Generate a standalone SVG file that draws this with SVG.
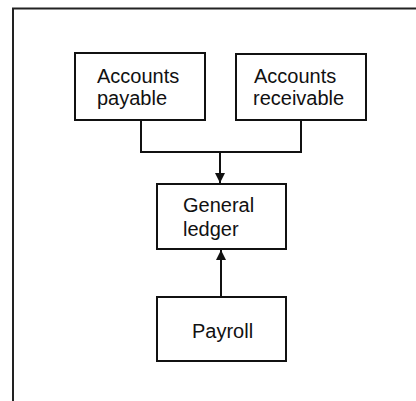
<svg xmlns="http://www.w3.org/2000/svg" width="416" height="401" viewBox="0 0 416 401">
<style>
.box{fill:#fff;stroke:#111;stroke-width:2}
.frame{fill:none;stroke:#222;stroke-width:2}
.conn{fill:none;stroke:#111;stroke-width:2}
text{font-family:"Liberation Sans",Arial,sans-serif;font-size:20px;fill:#111}
</style>
<defs>
<marker id="arr" viewBox="0 0 10 12" refX="10" refY="6" markerWidth="5" markerHeight="6" markerUnits="strokeWidth" orient="auto">
<path d="M0,1 L10,6 L0,11 Z" fill="#111"/>
</marker>
</defs>
<rect width="416" height="401" fill="#fff"/>
<path class="frame" d="M13,401 V8.5 H416"/>
<g id="connectors">
<path class="conn" d="M141,120 V152 H301 V120"/>
<path class="conn" d="M220,152 V183" marker-end="url(#arr)"/>
<path class="conn" d="M221,297 V250" marker-end="url(#arr)"/>
</g>
<g id="accounts-payable">
<rect class="box" x="75" y="53" width="130" height="67"/>
<text x="97" y="83">Accounts</text>
<text x="97" y="105">payable</text>
</g>
<g id="accounts-receivable">
<rect class="box" x="236" y="54" width="130" height="66"/>
<text x="254" y="83">Accounts</text>
<text x="253" y="105">receivable</text>
</g>
<g id="general-ledger">
<rect class="box" x="157" y="184" width="129" height="65"/>
<text x="183" y="212">General</text>
<text x="183" y="236">ledger</text>
</g>
<g id="payroll">
<rect class="box" x="157" y="297" width="129" height="64"/>
<text x="192" y="338">Payroll</text>
</g>
</svg>
